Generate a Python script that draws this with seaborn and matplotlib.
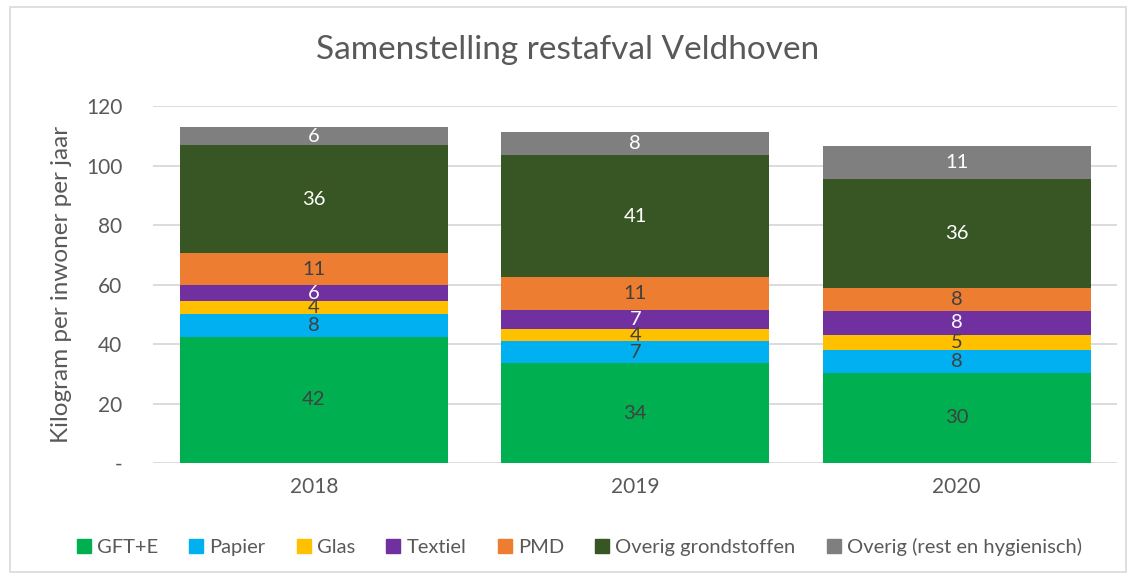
import numpy as np
import pandas as pd
import seaborn as sns
import matplotlib.pyplot as plt
from matplotlib.lines import Line2D
from matplotlib.patches import Rectangle

# data (kg per inwoner per jaar)
years = ['2018', '2019', '2020']
categories = ['GFT+E', 'Papier', 'Glas', 'Textiel', 'PMD',
              'Overig grondstoffen', 'Overig (rest en hygienisch)']
gft = [42.4, 33.6, 30.3]
papier = [7.6, 7.4, 7.7]
glas = [4.3, 4.0, 5.2]
textiel = [5.6, 6.6, 7.9]
pmd = [10.6, 10.9, 7.8]
overig_grond = [36.4, 41.0, 36.4]
overig_rest = [5.9, 7.9, 11.4]

colors = ['#00B050', '#00B0F0', '#FFC000', '#7030A0', '#ED7D31', '#375623', '#7F7F7F']
label_colors = ['#404040', '#404040', '#404040', 'white', '#404040', 'white', 'white']

sns.set_style('white')
plt.rcParams['font.family'] = ['Lato', 'DejaVu Sans']

values = np.array([gft, papier, glas, textiel, pmd, overig_grond, overig_rest])
cum = values.cumsum(axis=0)

fig = plt.figure(figsize=(11.36, 5.79), dpi=100)
ax = fig.add_axes([0.1347, 0.2003, 0.849, 0.6166])

# stacked bars: draw cumulative totals from top down
for i in range(len(categories) - 1, -1, -1):
    df = pd.DataFrame({'jaar': years, 'cum': cum[i]})
    sns.barplot(data=df, x='jaar', y='cum', color=colors[i], saturation=1,
                width=0.834, ax=ax, linewidth=0, zorder=3)

# data labels
for i in range(len(categories)):
    for j in range(len(years)):
        mid = cum[i, j] - values[i, j] / 2
        ax.text(j, mid, f'{values[i, j]:.0f}', ha='center', va='center',
                fontsize=14.5, color=label_colors[i], zorder=5)

ax.set_ylim(0, 120)
ax.set_xlim(-0.5, 2.5)
ax.set_yticks(range(0, 121, 20))
ax.set_yticklabels(['-'] + [str(v) for v in range(20, 121, 20)])
ax.yaxis.grid(True, color='#D9D9D9', linewidth=1.3, zorder=0)
ax.set_axisbelow(True)
for s in ax.spines.values():
    s.set_visible(False)
ax.tick_params(axis='both', length=0, labelsize=15, colors='#595959')
ax.tick_params(axis='y', pad=22)
ax.tick_params(axis='x', pad=10)
ax.set_xlabel('')
ax.set_ylabel('Kilogram per inwoner per jaar', fontsize=17.5, color='#595959', labelpad=10)

fig.suptitle('Samenstelling restafval Veldhoven', fontsize=24, color='#595959',
             y=0.94)

handles = [Line2D([0], [0], marker='s', linestyle='', markersize=10,
                  markerfacecolor=c, markeredgecolor=c) for c in colors]
fig.legend(handles, categories, loc='center', bbox_to_anchor=(0.51, 0.055),
           ncol=7, frameon=False, fontsize=14.5, handletextpad=0.3,
           handlelength=0.7, columnspacing=1.55, labelcolor='#595959')

# chart border
fig.patches.append(Rectangle((0.009, 0.012), 0.982, 0.976, transform=fig.transFigure,
                             fill=False, edgecolor='#D9D9D9', linewidth=1.2))

fig.savefig('out.png', dpi=100)
plt.close(fig)
